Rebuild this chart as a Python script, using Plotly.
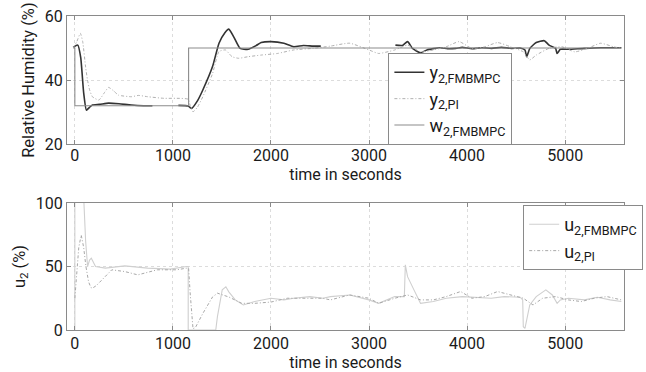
import plotly.graph_objects as go

# ---------------- data ----------------
t_y_mpc = [-17, 30, 60, 90, 118, 150, 179, 250, 344, 450, 576, 700, 791, 900, 1056, 1156, 1189, 1250,
           1305, 1404, 1470, 1530, 1570, 1620, 1685, 1768, 1850, 1900, 2000, 2132, 2232, 2330, 2430,
           2508, 2900, 3269, 3340, 3393, 3443, 3525, 3590, 3721, 3800, 3885, 3950, 4050, 4150, 4250,
           4350, 4450, 4540, 4590, 4607, 4640, 4705, 4787, 4836, 4902, 4918, 4951, 5033, 5197, 5361, 5573]
y_mpc = [50.2, 50.9, 47, 36, 30.6, 31.5, 32.2, 32.4, 32.8, 32.6, 32.2, 32.0, 32.0, None, 32.1, 31.9, 31.1, 33.5,
         36.9, 44.2, 51.5, 54.8, 55.9, 53.5, 49.9, 49.6, 50.8, 51.7, 52.0, 51.5, 50.4, 50.8, 50.6,
         50.6, None, 50.9, 50.8, 52.0, 49.9, 48.5, 49.4, 50.1, 49.8, 49.9, 50.2, 49.8, 50.1, 49.9,
         50.2, 49.9, 50.0, 49.4, 47.3, 49.9, 51.7, 52.3, 50.9, 49.9, 48.3, 49.6, 49.6, 49.9, 50.1, 50.1]

t_y_pi = [-17, 20, 56, 80, 110, 129, 150, 179, 245, 300, 344, 400, 444, 576, 650, 742, 907, 1040, 1156,
          1180, 1205, 1250, 1305, 1404, 1470, 1536, 1603, 1669, 1768, 1900, 2066, 2232, 2430, 2606,
          2803, 2999, 3098, 3262, 3393, 3525, 3656, 3787, 3918, 4049, 4180, 4311, 4442, 4573, 4639,
          4705, 4836, 4967, 5098, 5229, 5361, 5492, 5573]
y_pi = [50, 52, 54.6, 52, 44, 40, 37, 34.8, 33.75, 36, 37.7, 36.5, 35.3, 34.8, 35.2, 34.8, 34.3, 34.3, 34,
        31.5, 30.1, 31.5, 34.8, 42, 48.9, 49.4, 47.3, 46.8, 47.3, 47.8, 48.3, 49.4, 49.9, 50.6,
        51.5, 49.4, 48.3, 49.4, 50.9, 48.8, 49.4, 50.4, 52.0, 49.9, 50.4, 51.7, 50.4, 48.8, 46.3,
        47.8, 49.9, 50.4, 48.8, 49.9, 51.5, 50.4, 49.9]

t_w = [-17, 0, 0, 1160, 1160, 5573]
w_mpc = [50, 50, 32, 32, 50, 50]

t_u_mpc = [0, 0, 87, 110, 130, 150, 168, 190, 211, 311, 400, 510, 742, 973, 1139, 1156, 1156, 1437, 1454,
           1503, 1540, 1570, 1636, 1718, 1834, 2000, 2132, 2232, 2397, 2530, 2606, 2803, 2999, 3098,
           3262, 3360, 3370, 3393, 3458, 3525, 3656, 3787, 3951, 4115, 4246, 4377, 4541, 4567, 4573,
           4590, 4639, 4705, 4803, 4869, 4918, 4951, 5033, 5197, 5328, 5459, 5573]
u_mpc = [0, 120, 110, 70, 50, 55, 56.5, 53, 50, 48.7, 49.5, 50.5, 48.7, 47.9, 50, 50, 0, 0, 10.5,
         31.6, 34, 30, 23.7, 19.7, 22.4, 25, 23.7, 25, 26.3, 25, 26.3, 27.6, 23.7, 21,
         26.3, 26.3, 51.3, 42, 31.6, 21, 22.4, 25, 26.3, 25.8, 25, 26.3, 25.8, 23.7, 2.6,
         1.3, 19.7, 26.3, 31.6, 27.6, 21, 23.7, 25, 23.7, 25.8, 23.7, 22.4]

t_u_pi = [0, 20, 40, 65, 90, 113, 140, 163, 179, 220, 278, 377, 510, 642, 841, 1040, 1139, 1160, 1175,
          1205, 1230, 1305, 1404, 1454, 1570, 1702, 1834, 2000, 2165, 2364, 2530, 2606, 2803, 2999,
          3098, 3262, 3393, 3525, 3656, 3787, 3934, 4049, 4180, 4311, 4442, 4573, 4672, 4770, 4902,
          5033, 5164, 5295, 5426, 5573]
u_pi = [25, 45, 65, 74.8, 65, 50, 38, 33.5, 32.9, 35, 39.5, 47.4, 46, 43.4, 47.4, 47.4, 48.7, 48.7, 30,
        1, 2, 13, 26, 29, 26, 21, 21, 22, 25, 25, 25, 23.7, 27.6, 25,
        21, 25, 27.6, 23.7, 23.7, 26.3, 30.3, 25, 26.3, 30.3, 27.6, 25, 19.7, 25, 26.3,
        23.7, 22.4, 25, 26.3, 23.7]

x_ticks = [0, 1000, 2000, 3000, 4000, 5000]
y1_ticks = [20, 40, 60]
y2_ticks = [0, 50, 100]

FONT = "Roboto"
DASHDOT = "3px,2px,1px,2px"
fig = go.Figure()

fig.add_trace(go.Scatter(x=t_y_mpc, y=y_mpc, mode="lines", name="y<sub>2,FMBMPC</sub>",
                         line=dict(color="#333333", width=1.6, shape="spline", smoothing=0.5),
                         xaxis="x", yaxis="y", legend="legend"))
fig.add_trace(go.Scatter(x=t_y_pi, y=y_pi, mode="lines", name="y<sub>2,PI</sub>",
                         line=dict(color="#b0b0b0", width=1, dash=DASHDOT, shape="spline", smoothing=0.5),
                         xaxis="x", yaxis="y", legend="legend"))
fig.add_trace(go.Scatter(x=t_w, y=w_mpc, mode="lines", name="w<sub>2,FMBMPC</sub>",
                         line=dict(color="#8c8c8c", width=1.1), xaxis="x", yaxis="y", legend="legend"))

fig.add_trace(go.Scatter(x=t_u_mpc, y=u_mpc, mode="lines", name="u<sub>2,FMBMPC</sub>",
                         line=dict(color="#cfcfcf", width=1.1), xaxis="x2", yaxis="y2", legend="legend2"))
fig.add_trace(go.Scatter(x=t_u_pi, y=u_pi, mode="lines", name="u<sub>2,PI</sub>",
                         line=dict(color="#a8a8a8", width=1, dash=DASHDOT), xaxis="x2", yaxis="y2", legend="legend2"))

axis_common = dict(showline=True, linecolor="#8a8a8a", linewidth=1, mirror="ticks",
                   ticks="inside", ticklen=4, tickcolor="#8a8a8a",
                   showgrid=True, gridcolor="#dcdcdc", griddash="dot", gridwidth=1,
                   zeroline=False, tickfont=dict(family=FONT, size=16, color="#1a1a1a"))

fig.update_layout(
    width=646, height=372,
    margin=dict(l=67, r=3, t=16, b=42),
    paper_bgcolor="white", plot_bgcolor="white",
    font=dict(family=FONT, size=16, color="#1a1a1a"),
    xaxis=dict(domain=[0, 1], anchor="y", range=[-80, 5600], tickvals=x_ticks, ticklabelstandoff=-3,
               title=dict(text="time in seconds", standoff=0, font=dict(family=FONT, size=16)),
               **axis_common),
    yaxis=dict(domain=[0.592, 1], anchor="x", range=[20, 60], tickvals=y1_ticks,
               title=dict(text="Relative Humidity (%)", standoff=6, font=dict(family=FONT, size=16.5)),
               **axis_common),
    xaxis2=dict(domain=[0, 1], anchor="y2", range=[-80, 5600], tickvals=x_ticks, ticklabelstandoff=-1,
                title=dict(text="time in seconds", standoff=0, font=dict(family=FONT, size=16)),
                **axis_common),
    yaxis2=dict(domain=[0, 0.4045], anchor="x2", range=[0, 100], tickvals=y2_ticks,
                title=dict(text="u<sub>2</sub> (%)", standoff=6, font=dict(family=FONT, size=16.5)),
                **axis_common),
    legend=dict(x=0.577, y=0.882, xanchor="left", yanchor="top", bgcolor="white",
                bordercolor="#8a8a8a", borderwidth=1, font=dict(family=FONT, size=18),
                itemwidth=30, tracegroupgap=0),
    legend2=dict(x=0.819, y=0.398, xanchor="left", yanchor="top", bgcolor="white",
                 bordercolor="#8a8a8a", borderwidth=1, font=dict(family=FONT, size=18),
                 itemwidth=30, tracegroupgap=0),
)

fig.write_html("out.html")
